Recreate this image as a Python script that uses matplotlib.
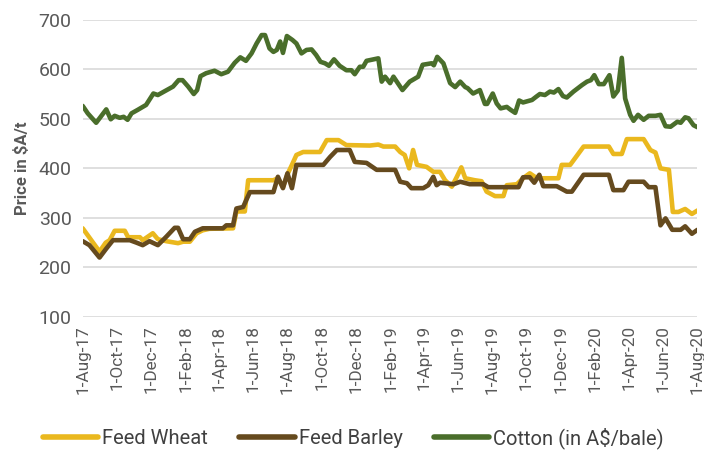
import matplotlib
matplotlib.use("Agg")
import matplotlib.pyplot as plt
import matplotlib.dates as mdates
import pandas as pd

plt.rcParams['font.family'] = ['Roboto', 'DejaVu Sans']

cotton_dates = [
    "2017-08-01", "2017-08-10", "2017-08-25", "2017-09-12", "2017-09-20", "2017-09-27",
    "2017-10-06", "2017-10-13", "2017-10-20", "2017-10-27", "2017-11-07", "2017-11-22",
    "2017-12-05", "2017-12-13", "2018-01-09", "2018-01-19", "2018-01-26", "2018-02-05",
    "2018-02-15", "2018-02-21", "2018-02-27", "2018-03-09", "2018-03-24", "2018-04-05",
    "2018-04-17", "2018-04-29", "2018-05-09", "2018-05-19", "2018-05-29", "2018-06-07",
    "2018-06-16", "2018-06-22", "2018-06-30", "2018-07-07", "2018-07-13", "2018-07-19",
    "2018-07-24", "2018-07-31", "2018-08-10", "2018-08-17", "2018-08-26", "2018-09-04",
    "2018-09-13", "2018-09-21", "2018-09-29", "2018-10-07", "2018-10-14", "2018-10-23",
    "2018-11-02", "2018-11-14", "2018-11-23", "2018-11-29", "2018-12-08", "2018-12-14",
    "2018-12-20", "2019-01-10", "2019-01-16", "2019-01-22", "2019-01-31", "2019-02-06",
    "2019-02-22", "2019-03-07", "2019-03-22", "2019-03-30", "2019-04-15", "2019-04-19",
    "2019-04-25", "2019-05-06", "2019-05-18", "2019-05-27", "2019-06-05", "2019-06-14",
    "2019-06-18", "2019-06-28", "2019-07-10", "2019-07-19", "2019-07-23", "2019-08-02",
    "2019-08-09", "2019-08-16", "2019-08-27", "2019-09-03", "2019-09-11", "2019-09-18",
    "2019-09-25", "2019-10-11", "2019-10-19", "2019-10-25", "2019-11-03", "2019-11-12",
    "2019-11-19", "2019-11-27", "2019-12-05", "2019-12-12", "2019-12-24", "2020-01-08",
    "2020-01-17", "2020-01-24", "2020-01-30", "2020-02-07", "2020-02-16", "2020-02-26",
    "2020-03-04", "2020-03-12", "2020-03-19", "2020-03-25", "2020-04-03", "2020-04-09",
    "2020-04-17", "2020-04-27", "2020-05-06", "2020-05-18", "2020-05-27", "2020-06-05",
    "2020-06-14", "2020-06-26", "2020-07-02", "2020-07-10", "2020-07-16", "2020-07-25",
    "2020-08-01",
]
cotton_values = [
    526, 511, 492, 519, 499, 506,
    502, 504, 498, 511, 518, 528,
    551, 548, 565, 578, 578, 565,
    550, 558, 586, 592, 597, 590,
    595, 613, 624, 617, 632, 652,
    669, 669, 642, 635, 639, 656,
    633, 667, 659, 652, 632, 639,
    640, 629, 615, 612, 607, 620,
    607, 598, 598, 590, 605, 605,
    617, 622, 575, 585, 572, 585,
    558, 575, 585, 609, 612, 608,
    625, 612, 572, 564, 575, 564,
    562, 551, 558, 530, 530, 551,
    531, 521, 524, 518, 512, 537,
    533, 538, 545, 550, 548, 555,
    553, 560, 546, 543, 555, 568,
    575, 578, 588, 570, 570, 588,
    545, 557, 623, 541, 508, 496,
    508, 498, 506, 506, 508, 485,
    484, 494, 492, 503, 501, 487,
    483,
]

wheat_dates = [
    "2017-08-01", "2017-08-31", "2017-09-11", "2017-09-18", "2017-09-27", "2017-10-15",
    "2017-10-21", "2017-11-11", "2017-11-16", "2017-12-04", "2017-12-13", "2017-12-28",
    "2018-01-18", "2018-01-27", "2018-02-08", "2018-02-20", "2018-03-03", "2018-03-15",
    "2018-04-26", "2018-05-02", "2018-05-17", "2018-05-23", "2018-07-07", "2018-07-15",
    "2018-07-24", "2018-08-01", "2018-08-09", "2018-08-17", "2018-08-29", "2018-09-28",
    "2018-10-10", "2018-10-31", "2018-11-14", "2018-12-26", "2019-01-10", "2019-01-19",
    "2019-02-09", "2019-02-18", "2019-02-26", "2019-03-06", "2019-03-13", "2019-03-20",
    "2019-04-06", "2019-04-18", "2019-04-30", "2019-05-09", "2019-05-21", "2019-05-30",
    "2019-06-07", "2019-06-14", "2019-07-01", "2019-07-13", "2019-07-22", "2019-08-06",
    "2019-08-21", "2019-08-27", "2019-09-14", "2019-09-25", "2019-10-07", "2019-10-16",
    "2019-10-25", "2019-11-27", "2019-12-03", "2019-12-18", "2020-01-11", "2020-02-25",
    "2020-03-04", "2020-03-19", "2020-03-28", "2020-04-27", "2020-05-09", "2020-05-18",
    "2020-05-27", "2020-06-11", "2020-06-18", "2020-06-28", "2020-07-10", "2020-07-22",
    "2020-08-01",
]
wheat_values = [
    279, 232, 250, 255, 274, 274,
    261, 261, 255, 269, 257, 253,
    249, 252, 252, 269, 275, 278,
    279, 313, 313, 376, 376, 380,
    362, 388, 407, 427, 433, 433,
    457, 457, 447, 446, 448, 444,
    444, 433, 427, 400, 437, 407,
    403, 393, 393, 376, 363, 383,
    402, 380, 376, 374, 353, 344,
    344, 366, 368, 380, 390, 383,
    380, 380, 407, 407, 444, 444,
    429, 429, 459, 459, 437, 432,
    400, 397, 312, 312, 318, 308,
    315,
]

barley_dates = [
    "2017-08-01", "2017-08-13", "2017-08-31", "2017-09-12", "2017-09-24", "2017-10-24",
    "2017-11-05", "2017-11-16", "2017-11-28", "2017-12-13", "2017-12-28", "2018-01-12",
    "2018-01-18", "2018-01-27", "2018-02-08", "2018-02-17", "2018-03-03", "2018-04-08",
    "2018-04-14", "2018-04-26", "2018-05-02", "2018-05-14", "2018-05-26", "2018-07-07",
    "2018-07-15", "2018-07-24", "2018-08-01", "2018-08-09", "2018-08-17", "2018-10-04",
    "2018-10-16", "2018-10-28", "2018-11-20", "2018-11-29", "2018-12-20", "2019-01-07",
    "2019-02-09", "2019-02-18", "2019-03-02", "2019-03-10", "2019-03-31", "2019-04-09",
    "2019-04-18", "2019-04-24", "2019-04-30", "2019-05-24", "2019-06-05", "2019-06-22",
    "2019-07-16", "2019-07-25", "2019-09-17", "2019-09-25", "2019-10-07", "2019-10-15",
    "2019-10-24", "2019-10-31", "2019-11-24", "2019-12-12", "2019-12-21", "2020-01-11",
    "2020-02-25", "2020-03-04", "2020-03-22", "2020-03-31", "2020-04-27", "2020-05-06",
    "2020-05-18", "2020-05-27", "2020-06-05", "2020-06-17", "2020-07-02", "2020-07-10",
    "2020-07-22", "2020-08-01",
]
barley_values = [
    253, 245, 220, 238, 255, 255,
    250, 245, 253, 245, 262, 280,
    280, 257, 257, 272, 279, 279,
    285, 285, 319, 322, 352, 352,
    383, 360, 390, 360, 407, 407,
    423, 437, 437, 413, 411, 397,
    397, 373, 370, 360, 360, 366,
    383, 366, 371, 368, 373, 368,
    368, 362, 362, 382, 382, 371,
    387, 364, 364, 353, 353, 387,
    387, 356, 356, 373, 373, 362,
    362, 285, 299, 276, 276, 283,
    268, 276,
]

series_names = ["Feed Wheat", "Feed Barley", "Cotton (in A$/bale)"]
series_colors = ["#EAB81E", "#654A1E", "#4A6E2B"]
y_ticks = [100, 200, 300, 400, 500, 600, 700]
y_label = "Price in $A/t"

fig = plt.figure(figsize=(7.04, 4.53), dpi=100)
ax = fig.add_axes([82.7 / 704, 1 - 317 / 453, (697.5 - 82.7) / 704, (317 - 19.7) / 453])

all_series = [
    (wheat_dates, wheat_values),
    (barley_dates, barley_values),
    (cotton_dates, cotton_values),
]
for (d, v), name, c in zip(all_series, series_names, series_colors):
    ax.plot(pd.to_datetime(d), v, color=c, lw=3.3, label=name,
            solid_joinstyle='round', solid_capstyle='round')

ax.set_ylim(100, 700)
ax.set_yticks(y_ticks)
ax.set_xlim(pd.Timestamp("2017-08-01"), pd.Timestamp("2020-08-01"))
ax.xaxis.set_major_locator(mdates.MonthLocator(bymonth=[2, 4, 6, 8, 10, 12]))
ax.xaxis.set_major_formatter(plt.FuncFormatter(
    lambda x, pos: (lambda d: f"{d.day}-{d:%b-%y}")(mdates.num2date(x))))
ax.grid(axis='y', color='#D9D9D9', lw=1.2)
ax.set_axisbelow(True)
for s in ax.spines.values():
    s.set_visible(False)
ax.tick_params(axis='both', length=0, colors='#595959')
ax.tick_params(axis='y', labelsize=14, pad=8)
ax.tick_params(axis='x', labelsize=12.3, rotation=90, pad=6)
ax.set_ylabel(y_label, fontsize=12, fontweight='bold', color='#595959', labelpad=6)

leg = fig.legend(loc='center', bbox_to_anchor=(0.502, 1 - 438 / 453), ncol=3,
                 frameon=False, fontsize=14.5, handlelength=2.75, handletextpad=0.2,
                 columnspacing=1.55, labelcolor='#404040')
for line in leg.get_lines():
    line.set_linewidth(4)

fig.savefig("out.png", dpi=100)
